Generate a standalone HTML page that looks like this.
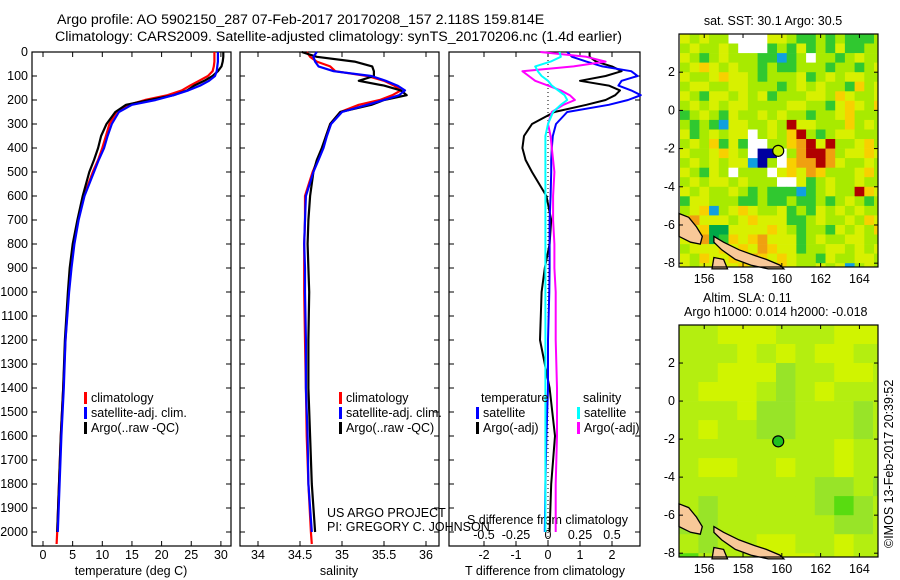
<!DOCTYPE html>
<html><head><meta charset="utf-8"><title>Argo profile</title>
<style>
html,body{margin:0;padding:0;background:#fff;}
svg{display:block;font-family:"Liberation Sans",sans-serif;}
text{font-size:12.5px;fill:#000;}
</style></head>
<body>
<svg id="fig" width="900" height="580" viewBox="0 0 900 580" xmlns="http://www.w3.org/2000/svg">
<text x="57" y="24" style="font-size:14.2px">Argo profile: AO 5902150_287 07-Feb-2017 20170208_157 2.118S 159.814E</text>
<text x="55" y="41" style="font-size:14.2px">Climatology: CARS2009. Satellite-adjusted climatology: synTS_20170206.nc (1.4d earlier)</text>
<text x="773" y="25" text-anchor="middle">sat. SST: 30.1 Argo: 30.5</text>
<text x="703" y="302">Altim. SLA: 0.11</text>
<text x="684" y="316">Argo h1000: 0.014 h2000: -0.018</text>
<text x="0" y="0" transform="translate(893,548) rotate(-90)">©IMOS 13-Feb-2017 20:39:52</text>
<text x="327" y="517">US ARGO PROJECT</text>
<text x="327" y="531">PI: GREGORY C. JOHNSON</text>
<text x="467" y="524">S difference from climatology</text>
<text x="131" y="575" text-anchor="middle">temperature (deg C)</text>
<text x="339" y="575" text-anchor="middle">salinity</text>
<text x="545" y="575" text-anchor="middle">T difference from climatology</text>
<g id="plots"></g>
</svg>
<script>
// ---------- data ----------
const depths = [0,20,40,60,80,100,120,140,160,180,200,220,250,300,350,400,450,500,600,700,800,900,1000,1200,1400,1600,1800,2000,2050];
const tempClim = [28.9,28.9,28.9,28.8,28.6,27.8,26.3,24.8,23.4,21,17.2,14.4,12.4,11.2,10.6,10.0,9.3,8.4,6.9,5.9,5.2,4.7,4.3,3.8,3.4,3.0,2.7,2.4,2.3];
const tempSat = [29.5,29.5,29.5,29.4,29.3,29.0,28.0,26.5,24.5,22,19.0,15.0,12.8,11.6,10.9,10.3,9.4,8.6,7.0,6.0,5.3,4.8,4.4,3.8,3.5,3.1,2.8,2.5];
const tempArgo = [30.4,30.4,30.3,30.1,29.5,28.6,27.2,25.5,24.3,22,18.0,14.0,12.2,10.7,9.8,9.3,8.6,7.8,6.7,5.8,5.0,4.5,4.2,3.7,3.4,3.0,2.7,2.4];
const salClim = [34.58,34.62,34.7,34.86,34.92,35.3,35.5,35.62,35.7,35.6,35.45,35.2,34.98,34.86,34.81,34.77,34.71,34.65,34.56,34.56,34.55,34.55,34.55,34.56,34.57,34.58,34.6,34.63,34.64];
const salSat = [34.7,34.66,34.68,34.72,34.9,35.35,35.52,35.66,35.75,35.68,35.5,35.3,35.0,34.87,34.82,34.78,34.72,34.66,34.57,34.56,34.55,34.56,34.56,34.57,34.57,34.59,34.6,34.64];
const salArgo = [34.52,34.7,35.15,35.36,35.38,35.38,35.2,35.5,35.7,35.77,35.5,35.35,34.98,34.86,34.81,34.76,34.7,34.66,34.62,34.6,34.59,34.6,34.61,34.6,34.6,34.62,34.64,34.68];
const dTSat = [0.6,0.75,1.2,1.7,2.6,2.8,2.3,2.2,2.6,2.9,2.5,1.9,0.6,0.25,0.15,0.12,0.1,0.1,0.08,0.05,0.05,0.05,0.04,0.0,0.0,-0.05,-0.08,-0.1];
const dTArgo = [1.3,1.3,1.5,2.0,2.3,1.8,1.0,1.9,2.25,2.1,1.8,1.2,0.2,-0.5,-0.75,-0.8,-0.7,-0.5,-0.05,0.1,0.05,-0.1,-0.2,-0.25,0.05,0.22,0.1,0.05];
const dSArgo = [-0.06,0.3,0.45,0.2,-0.2,-0.15,-0.1,0.0,0.1,0.17,0.21,0.12,0.03,0.0,0.02,0.03,0.04,0.05,0.04,0.04,0.05,0.05,0.06,0.06,0.07,0.07,0.06,0.06];
const dSSat = [0.09,0.1,0.02,-0.1,-0.08,-0.05,0.0,0.03,0.08,0.13,0.15,0.1,0.04,0.0,-0.02,-0.02,-0.02,-0.02,-0.02,-0.02,-0.02,-0.02,-0.02,-0.02,-0.02,-0.02,-0.02,-0.02];
const depthTicks = [0,100,200,300,400,500,600,700,800,900,1000,1100,1200,1300,1400,1500,1600,1700,1800,1900,2000];
const tempTicks = [0,5,10,15,20,25,30];
const salTicks = [34,34.5,35,35.5,36];
const tDiffTicks = [-2,-1,0,1,2];
const sDiffTicks = [-0.5,-0.25,0,0.25,0.5];
const latTicks = [2,0,-2,-4,-6,-8];
const lonTicks = [156,158,160,162,164];
const argoLon = 159.814, argoLat = -2.118;
const sstRows = [
"ylyllwwwwyylgglglgggl","lyllylwwwglgyglgyggll","ylglylllggcglwllglyll","lyoylyllglgglllgllgly",
"yllyoyylglllyglylyyll","lyyllyylllglylyllgoly","ylgyylylyglllyyloylly","lylylyyllllyyllgyoylo",
"glylgyllylyllgllyolll","lglgcyyllylryylllolyl","yglylyywlylorlglyylll","lylogygwwlloOryrllyol",
"yllyoylwbbwlOrrOlyyoy","lylylyycblwoOOrOyllyl","ylgylwlllwyoyOolllyol","lylyylylllwwyglyllyll",
"ylyllylglgggcglyllroy","gyylllgglgglgglglylgl","lyoclyoyllyglgylylyll","oOyyylyoyyygglyllyloy",
"lyoGGyyyyoylgllgylylo","yyOGgoyoOyyyglyllyyll","lyyyoyoyOoyygllyylyly","yloyyoyOoyoyllgyllyyl","ylyyyyoyoyoyllylyclyl"];
const slaRows = [
"llyyylllyyy","lllylylyyll","llyyygllyyl","lyyylglylll","lllygglllgl",
"lyllgglllgl","llllllllyll","lyyllyllyll","lllllllgglg","lglllllgGgl",
"ggllllllggl","lgllyyllyll","Glllyyylyll"];
// ---------- helpers ----------
const NS="http://www.w3.org/2000/svg";
const root=document.getElementById('plots');
function mk(tag,attrs,parent){const e=document.createElementNS(NS,tag);for(const k in attrs)e.setAttribute(k,attrs[k]);(parent||root).appendChild(e);return e;}
const Y0=52, PXM=0.24;
const yD=d=>Y0+d*PXM;
const xT=t=>43+t*5.93;
const xS=s=>258+(s-34)*84;
const xDT=v=>548+v*32;
const xDS=v=>548+v*128;
function line(xs,xf,color,w,name){
  let p='';xs.forEach((v,i)=>{p+=(i?'L':'M')+xf(v).toFixed(1)+','+yD(depths[i]).toFixed(1);});
  const e=mk('path',{d:p,fill:'none',stroke:color,'stroke-width':w,'stroke-linejoin':'round'});
  
  
}
function panel(x0,x1,name){
  const g=mk('rect',{x:x0,y:52,width:x1-x0,height:494,fill:'none',stroke:'#000','stroke-width':1.2});
  
  
  depthTicks.forEach(d=>{mk('line',{x1:x0,x2:x0+5,y1:yD(d),y2:yD(d),stroke:'#000'});mk('line',{x1:x1-5,x2:x1,y1:yD(d),y2:yD(d),stroke:'#000'});});
}
function xticks(vals,xf,labels,ly,name){
  vals.forEach(v=>{const x=xf(v);mk('line',{x1:x,x2:x,y1:546,y2:541,stroke:'#000'});mk('line',{x1:x,x2:x,y1:52,y2:57,stroke:'#000'});
    if(labels){const t=mk('text',{x:x,y:ly,'text-anchor':'middle'});t.textContent=String(v);
      
      }});
}
depthTicks.forEach(d=>{const t=mk('text',{x:28,y:yD(d)+4,'text-anchor':'end'});t.textContent=d;
  
  });
panel(32,231,'temperature-panel');
xticks(tempTicks,xT,true,559,'temperature-tick-label');
line(tempClim,xT,'#f00',2.2,'temp-climatology-line');
line(tempArgo,xT,'#000',2.2,'temp-argo-line');
line(tempSat,xT,'#00f',2.2,'temp-satellite-line');
panel(240,439,'salinity-panel');
xticks(salTicks,xS,true,559,'salinity-tick-label');
line(salClim,xS,'#f00',2.2,'sal-climatology-line');
line(salArgo,xS,'#000',2.2,'sal-argo-line');
line(salSat,xS,'#00f',2.2,'sal-satellite-line');
panel(449,640,'difference-panel');
xticks(tDiffTicks,xDT,true,559,'t-diff-tick-label');
sDiffTicks.forEach(v=>{const t=mk('text',{x:xDS(v),y:539,'text-anchor':'middle'});t.textContent=String(v);
  
  });
mk('line',{x1:548,x2:548,y1:52,y2:546,stroke:'#000','stroke-dasharray':'1,3'});
line(dTArgo,xDT,'#000',2,'t-diff-argo-line');
line(dTSat,xDT,'#00f',2,'t-diff-satellite-line');
line(dSArgo,xDS,'#f0f',2,'s-diff-argo-line');
line(dSSat,xDS,'#0ff',2,'s-diff-satellite-line');
function leg(x,y,color,label,name){
  if(color) mk('rect',{x:x-7,y:y-10,width:3,height:12,fill:color});
  const t=mk('text',{x:x,y:y});t.textContent=label;
  
  
}
[91,346].forEach(x=>{
  leg(x,402,'#f00','climatology','legend-climatology');
  leg(x,417,'#00f','satellite-adj. clim.','legend-satellite-adj');
  leg(x,432,'#000','Argo(..raw -QC)','legend-argo');
});
leg(481,402,null,'temperature','legend-temperature-header');
leg(583,402,null,'salinity','legend-salinity-header');
leg(483,417,'#00f','satellite','legend-t-satellite');
leg(483,432,'#000','Argo(-adj)','legend-t-argo');
leg(584,417,'#0ff','satellite','legend-s-satellite');
leg(584,432,'#f0f','Argo(-adj)','legend-s-argo');
function mapFrame(top,bot,name,cellRows,palette,dLon,lon0,dLat,circleFill){
  const lonX=l=>679+(l-154.7)*19.4;
  const latY=a=>top+(4-a)*((bot-top)/12.2);
  const g=mk('g',{});
  
  
  cellRows.forEach((row,r)=>{for(let c=0;c<row.length;c++){
    const ch=row[c];const la=4-r*dLat;const lo=lon0+c*dLon;
    const x0=Math.max(679,lonX(lo)),x1=Math.min(878,lonX(lo+dLon));
    const y0=latY(la),y1=Math.min(bot,latY(la-dLat));
    if(x1<=x0||y1<=y0)continue;
    const cell=mk('rect',{x:x0.toFixed(1),y:y0.toFixed(1),width:(x1-x0+0.4).toFixed(1),height:(y1-y0+0.4).toFixed(1),fill:palette[ch]},g);
    
    
  }});
  const isl=[[154.7,-5.4],[155.2,-5.6],[155.6,-6.1],[155.9,-6.6],[155.8,-7.0],[155.3,-6.9],[154.7,-6.6]];
  const isl2=[[156.5,-6.6],[157.0,-6.9],[157.8,-7.3],[158.6,-7.6],[159.2,-7.8],[159.9,-8.1],[160.1,-8.3],[159.3,-8.3],[158.4,-8.1],[157.6,-7.8],[156.9,-7.3],[156.5,-6.9]];
  const isl3=[[156.5,-7.7],[157.0,-7.8],[157.2,-8.3],[156.4,-8.3]];
  [isl,isl2,isl3].forEach(p=>{const e=mk('polygon',{points:p.map(q=>lonX(q[0]).toFixed(1)+','+latY(q[1]).toFixed(1)).join(' '),fill:'#f8c898',stroke:'#000','stroke-width':1.3},g);
    
    });
  const c=mk('circle',{cx:lonX(argoLon),cy:latY(argoLat),r:5.5,fill:circleFill,stroke:'#000','stroke-width':1.2},g);
  
  
  mk('rect',{x:679,y:top,width:199,height:bot-top,fill:'none',stroke:'#000','stroke-width':1.2},g);
  latTicks.forEach(a=>{const y=latY(a);mk('line',{x1:679,x2:683,y1:y,y2:y,stroke:'#000'},g);mk('line',{x1:874,x2:878,y1:y,y2:y,stroke:'#000'},g);
    const t=mk('text',{x:675,y:y+4,'text-anchor':'end'},g);t.textContent=a;
    
    });
  lonTicks.forEach(l=>{const x=lonX(l);mk('line',{x1:x,x2:x,y1:top,y2:top+4,stroke:'#000'},g);mk('line',{x1:x,x2:x,y1:bot-4,y2:bot,stroke:'#000'},g);
    const t=mk('text',{x:x,y:bot+16,'text-anchor':'middle'},g);t.textContent=l;
    
    });
}
const sstPal={y:'#d8f000',l:'#a8ea00',g:'#30c830',G:'#00a848',o:'#f8d000',O:'#f0a010',r:'#b00000',b:'#0000a0',c:'#10a0e0',w:'#ffffff'};
const slaPal={y:'#d0f400',l:'#b4ee10',g:'#98e428',G:'#58dc10'};
mapFrame(34,267,'sst-map',sstRows,sstPal,0.5,154.75,0.5,'#c8f000');
mapFrame(325,557,'sla-map',slaRows,slaPal,1,154.7,1,'#20c020');
</script>
</body></html>
